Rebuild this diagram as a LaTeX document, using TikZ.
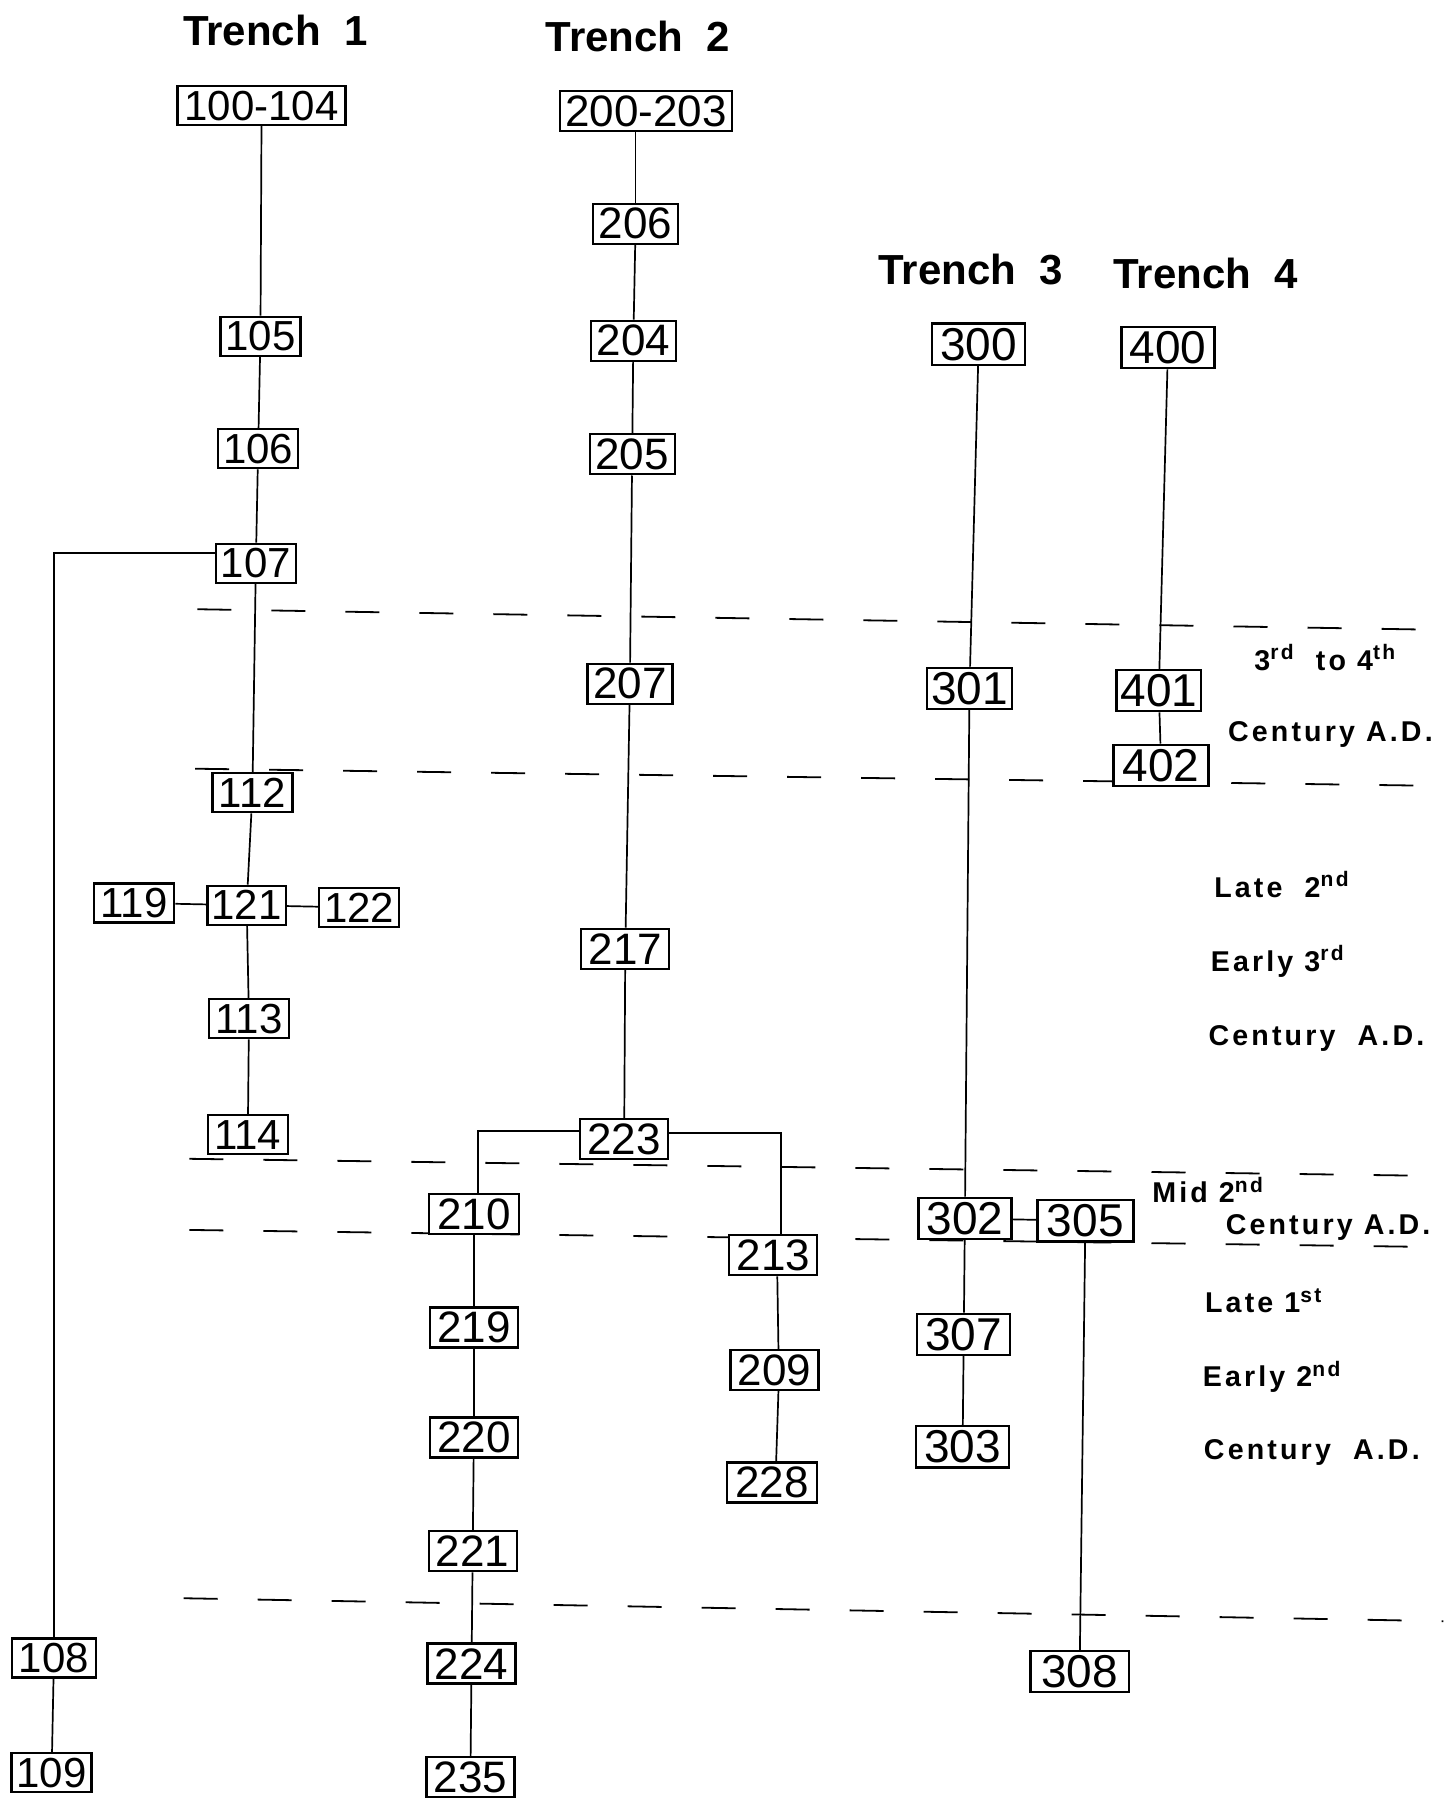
\documentclass[tikz,border=0pt]{standalone}
\usepackage{fontspec}
\setmainfont{Liberation Sans}
\newfontfamily\lblfont[LetterSpace=11]{Liberation Sans}
\newcommand{\supx}[1]{\raisebox{5.2pt}{\fontsize{10.5}{10.5}\selectfont #1}}
\begin{document}
\begin{tikzpicture}[x=0.5735pt,y=-0.5735pt,
  box/.style={draw, line width=1.15pt, fill=white, inner xsep=2pt, inner ysep=0pt},
  b1/.style={box, minimum width=40pt, minimum height=19.5pt, font=\fontsize{21}{21}\selectfont},
  b2/.style={box, minimum width=44pt, minimum height=20pt, font=\fontsize{22}{22}\selectfont},
  b3/.style={box, minimum width=46.5pt, minimum height=20.6pt, font=\fontsize{23}{23}\selectfont},
  link/.style={line width=0.85pt},
  era/.style={line width=0.9pt, dash pattern=on 17pt off 20pt},
  trench/.style={font=\bfseries\fontsize{21}{21}\selectfont},
  per/.style={anchor=west, inner sep=0pt, font=\lblfont\bfseries\fontsize{14.3}{14.3}\selectfont}
]
\useasboundingbox (0,0) rectangle (1258,1568);
% period boundaries
\draw[era] (172,531) -- (1258,549);
\draw[era] (170,670) -- (1258,685);
\draw[era] (165,1010) -- (1258,1025);
\draw[era] (165,1072) -- (1258,1087);
\draw[era] (160,1393) -- (1258,1413);
% trench titles
\node[trench] (t1) at (240,27) {Trench\ \ 1};
\node[trench] (t2) at (556,32) {Trench\ \ 2};
\node[trench] (t3) at (846,235) {Trench\ \ 3};
\node[trench] (t4) at (1051,238) {Trench\ \ 4};
% period labels
\node[per] (p1) at (1093,573) {3\supx{rd}\ \ to 4\supx{th}};
\node[per] (p2) at (1070,640) {Century A.D.};
\node[per] (p3) at (1058,771) {Late\ \ 2\supx{nd}};
\node[per] (p4) at (1055,838) {Early 3\supx{rd}};
\node[per] (p5) at (1053,905) {Century\ \ A.D.};
\node[per] (p6) at (1004,1037) {Mid 2\supx{nd}};
\node[per] (p7) at (1068,1070) {Century A.D.};
\node[per] (p8) at (1050,1134) {Late 1\supx{st}};
\node[per] (p9) at (1048,1200) {Early 2\supx{nd}};
\node[per] (p10) at (1049,1266) {Century\ \ A.D.};
% Trench 1
\node[b1, minimum width=84pt] (n100) at (228,92) {100-104};
\node[b1] (n105) at (227,293) {105};
\node[b1] (n106) at (225,391) {106};
\node[b1] (n107) at (223,491) {107};
\node[b1] (n112) at (220,691) {112};
\node[b1, minimum width=36pt] (n121) at (215,789) {121};
\node[b1] (n119) at (117,787) {119};
\node[b1] (n122) at (313,791) {122};
\node[b1] (n113) at (217,888) {113};
\node[b1] (n114) at (216,989) {114};
\node[b1, minimum width=42pt] (n108) at (47,1445) {108};
\node[b1] (n109) at (45,1545) {109};
% Trench 2
\node[b2, minimum width=86pt] (n200) at (563,97) {200-203};
\node[b2, minimum width=42.5pt] (n206) at (554,195) {206};
\node[b2, minimum width=42.5pt] (n204) at (552,297) {204};
\node[b2, minimum width=42.5pt] (n205) at (551,396) {205};
\node[b2, minimum width=42.5pt] (n207) at (549,596) {207};
\node[b2] (n217) at (545,827) {217};
\node[b2] (n223) at (544,993) {223};
\node[b2, minimum width=45pt] (n210) at (413,1058) {210};
\node[b2] (n219) at (413,1157) {219};
\node[b2] (n220) at (413,1253) {220};
\node[b2] (n221) at (412,1352) {221};
\node[b2] (n224) at (411,1450) {224};
\node[b2] (n235) at (410,1549) {235};
\node[b2] (n213) at (674,1094) {213};
\node[b2] (n209) at (675,1194) {209};
\node[b2, minimum width=45pt] (n228) at (673,1292) {228};
% Trench 3
\node[b3] (n300) at (853,300) {300};
\node[b3, minimum width=41.5pt] (n301) at (845,600) {301};
\node[b3] (n302) at (841,1062) {302};
\node[b3, minimum width=48pt] (n305) at (946,1064) {305};
\node[b3] (n307) at (840,1163) {307};
\node[b3] (n303) at (839,1261) {303};
\node[b3, minimum width=49pt] (n308) at (941,1457) {308};
% Trench 4
\node[b3] (n400) at (1018,303) {400};
\node[b3, minimum width=42pt] (n401) at (1010,602) {401};
\node[b3, minimum width=47.5pt] (n402) at (1012,667) {402};
% connectors Trench 1
\draw[link] (n100) -- (n105);
\draw[link] (n105) -- (n106);
\draw[link] (n106) -- (n107);
\draw[link] (n107) -- (n112);
\draw[link] (n112) -- (n121);
\draw[link] (n121) -- (n113);
\draw[link] (n113) -- (n114);
\draw[link] (n119) -- (n121);
\draw[link] (n121) -- (n122);
\draw[link] ([yshift=5pt]n107.west) -| (n108.north);
\draw[link] (n108) -- (n109);
% connectors Trench 2
\draw[link] (n200.south -| n206) -- (n206);
\draw[link] (n206) -- (n204);
\draw[link] (n204) -- (n205);
\draw[link] (n205) -- (n207);
\draw[link] (n207) -- (n217);
\draw[link] (n217) -- (n223);
\draw[link] ([yshift=4pt]n223.west) -| ([xshift=2pt]n210.north);
\draw[link] ([yshift=3pt]n223.east) -| ([xshift=4pt]n213.north);
\draw[link] (n210) -- (n219);
\draw[link] (n219) -- (n220);
\draw[link] (n220) -- (n221);
\draw[link] (n221) -- (n224);
\draw[link] (n224) -- (n235);
\draw[link] ([xshift=2pt]n213.south) -- ([xshift=2pt]n209.north);
\draw[link] ([xshift=2pt]n209.south) -- ([xshift=2pt]n228.north);
% connectors Trench 3
\draw[link] (n300) -- (n301);
\draw[link] (n301) -- (n302);
\draw[link] (n302) -- (n305);
\draw[link] (n302) -- (n307);
\draw[link] (n307) -- (n303);
\draw[link] (n305) -- (n308);
% connectors Trench 4
\draw[link] (n400) -- (n401);
\draw[link] (n401) -- (n402);
\end{tikzpicture}
\end{document}
